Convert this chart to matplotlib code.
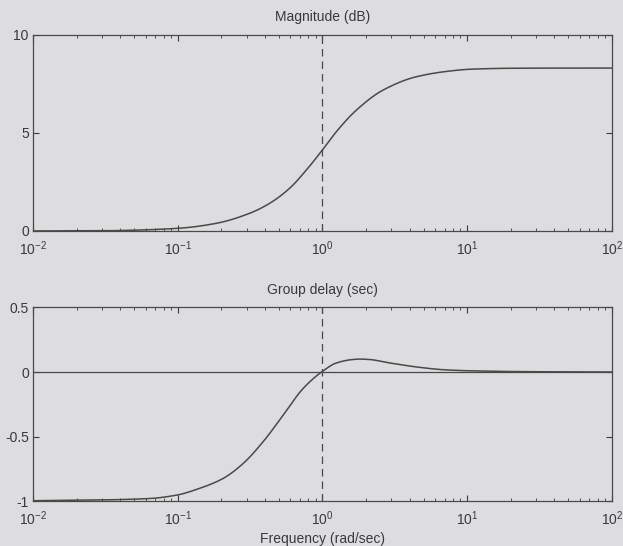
import matplotlib
matplotlib.use("Agg")
import matplotlib.pyplot as plt
import numpy as np
from matplotlib.ticker import LogLocator, FixedLocator, NullFormatter

plt.rcParams["font.family"] = ["Liberation Sans", "DejaVu Sans"]
plt.rcParams["mathtext.fontset"] = "custom"
plt.rcParams["mathtext.rm"] = "Liberation Sans"

# values
mag_w = [0.01, 0.03, 0.05, 0.103, 0.185, 0.314, 0.432, 0.594, 0.775, 1.0,
         1.25, 1.72, 2.63, 4.47, 7.6, 10.4, 20, 50, 100]
mag_db = [0.0, 0.01, 0.04, 0.14, 0.39, 0.90, 1.41, 2.18, 3.11, 4.13,
          5.07, 6.17, 7.19, 7.87, 8.16, 8.25, 8.30, 8.31, 8.31]

gd_w = [0.01, 0.03, 0.064, 0.098, 0.142, 0.205, 0.282, 0.389, 0.535, 0.735,
        1.0, 1.25, 1.6, 1.8, 2.1, 2.92, 4.47, 6.8, 10, 30, 100]
gd_sec = [-0.996, -0.99, -0.979, -0.953, -0.90, -0.825, -0.71, -0.54, -0.335, -0.128,
          0.005, 0.07, 0.096, 0.10, 0.097, 0.07, 0.039, 0.018, 0.01, 0.002, 0.0]

bg = "#dddddf"
ink = "#3a383a"
line = "#4a4848"


def pchip(x, y, xn):
    # monotone cubic through the read points
    x = np.asarray(x, float)
    y = np.asarray(y, float)
    h = np.diff(x)
    d = np.diff(y) / h
    m = np.zeros_like(y)
    for k in range(1, len(x) - 1):
        if d[k - 1] * d[k] > 0:
            w1 = 2 * h[k] + h[k - 1]
            w2 = h[k] + 2 * h[k - 1]
            m[k] = (w1 + w2) / (w1 / d[k - 1] + w2 / d[k])
    m[0], m[-1] = d[0], d[-1]
    idx = np.clip(np.searchsorted(x, xn) - 1, 0, len(h) - 1)
    t = (xn - x[idx]) / h[idx]
    h00 = 2 * t**3 - 3 * t**2 + 1
    h10 = t**3 - 2 * t**2 + t
    h01 = -2 * t**3 + 3 * t**2
    h11 = t**3 - t**2
    return (h00 * y[idx] + h10 * h[idx] * m[idx]
            + h01 * y[idx + 1] + h11 * h[idx] * m[idx + 1])


def smooth(w, v, n=600):
    lw = np.log10(w)
    x = np.linspace(lw[0], lw[-1], n)
    return 10 ** x, pchip(lw, v, x)


def style(ax, yticks, ylabels):
    ax.set_facecolor(bg)
    ax.set_xscale("log")
    ax.set_xlim(1e-2, 1e2)
    ax.xaxis.set_minor_locator(LogLocator(base=10, subs=np.arange(2, 10), numticks=20))
    ax.xaxis.set_minor_formatter(NullFormatter())
    ax.set_xticks([1e-2, 1e-1, 1, 1e1, 1e2])
    ax.set_xticklabels([r"10$^{-2}$", r"10$^{-1}$", r"10$^{0}$", r"10$^{1}$", r"10$^{2}$"])
    ax.yaxis.set_major_locator(FixedLocator(yticks))
    ax.set_yticklabels(ylabels)
    ax.tick_params(which="both", direction="in", top=True, right=True,
                   colors=ink, labelsize=10)
    ax.tick_params(axis="x", pad=6)
    ax.tick_params(axis="y", pad=3)
    ax.tick_params(which="major", length=4)
    ax.tick_params(which="minor", length=2.5)
    for s in ax.spines.values():
        s.set_color(line)
        s.set_linewidth(0.9)


fig = plt.figure(figsize=(6.23, 5.46), dpi=100, facecolor=bg)

ax1 = fig.add_axes([0.053, 0.577, 0.929, 0.359])
w, v = smooth(mag_w, mag_db)
ax1.plot(w, v, color=line, lw=1.1)
ax1.axvline(1, color=line, lw=0.9, ls=(0, (6, 4)))
ax1.set_ylim(0, 10)
style(ax1, [0, 5, 10], ["0", "5", "10"])
ax1.set_title("Magnitude (dB)", fontsize=10, color=ink, pad=10)

ax2 = fig.add_axes([0.053, 0.082, 0.929, 0.355])
w, v = smooth(gd_w, gd_sec)
ax2.plot(w, v, color=line, lw=1.1)
ax2.axhline(0, color=line, lw=0.9)
ax2.axvline(1, color=line, lw=0.9, ls=(0, (6, 4)))
ax2.set_ylim(-1, 0.5)
style(ax2, [-1, -0.5, 0, 0.5], ["-1", "-0.5", "0", "0.5"])
ax2.set_title("Group delay (sec)", fontsize=10, color=ink, pad=10)
ax2.set_xlabel("Frequency (rad/sec)", fontsize=10, color=ink, labelpad=3)

fig.savefig("out.png", dpi=100, facecolor=bg)
